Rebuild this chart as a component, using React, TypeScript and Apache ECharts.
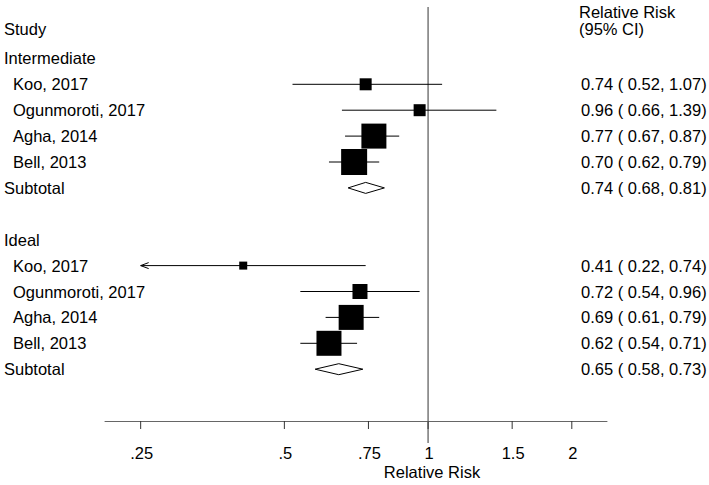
import { useEffect, useRef } from "react";
import * as echarts from "echarts";

// ---- data ----
const rowLabels = [
  "Intermediate",
  "Koo, 2017",
  "Ogunmoroti, 2017",
  "Agha, 2014",
  "Bell, 2013",
  "Subtotal",
  "Ideal",
  "Koo, 2017",
  "Ogunmoroti, 2017",
  "Agha, 2014",
  "Bell, 2013",
  "Subtotal",
];
const rowPos = [1, 2, 3, 4, 5, 6, 8, 9, 10, 11, 12, 13];
const rowKind = [
  "group", "study", "study", "study", "study", "subtotal",
  "group", "study", "study", "study", "study", "subtotal",
];
const estimates = [null, 0.74, 0.96, 0.77, 0.7, 0.74, null, 0.41, 0.72, 0.69, 0.62, 0.65];
const lower = [null, 0.52, 0.66, 0.67, 0.62, 0.68, null, 0.22, 0.54, 0.61, 0.54, 0.58];
const upper = [null, 1.07, 1.39, 0.87, 0.79, 0.81, null, 0.74, 0.96, 0.79, 0.71, 0.73];
// study weights shown as marker box size
const weights = [null, 12, 12, 25, 26, null, null, 8, 15, 25, 25, null];
const tickValues = [0.25, 0.5, 0.75, 1, 1.5, 2];
const tickLabels = [".25", ".5", ".75", "1", "1.5", "2"];
const nullValue = 1;
const clipLow = 0.25;

const FONT = "16.5px 'Liberation Sans', Arial, sans-serif";

const txt = (text: string, x: number, y: number, align: string, extra: any = {}) => ({
  type: "text",
  style: {
    text,
    x,
    y,
    font: FONT,
    fill: "#000",
    align,
    verticalAlign: "middle",
    textAlign: align,
    textVerticalAlign: "middle",
    ...extra,
  },
});

export default function App() {
  const ref = useRef<HTMLDivElement>(null);
  useEffect(() => {
    document.body.style.margin = "0";
    if (!ref.current) return;
    const chart = echarts.init(ref.current, undefined, { renderer: "svg" });

    const forestData: any[] = [];
    rowKind.forEach((k, i) => {
      if (k !== "group") {
        forestData.push([estimates[i], rowPos[i], lower[i], upper[i], weights[i] ?? 0, i]);
      }
    });

    const labelData = rowLabels.map((_, i) => [nullValue, rowPos[i], i]);
    const tickData = tickValues.map((v, i) => [v, 15, i]);

    const option: any = {
      animation: false,
      grid: { left: 105, right: 102, top: 32.5, bottom: 64, outerBoundsMode: "none" },
      xAxis: {
        type: "log",
        logBase: 10,
        min: 0.2105,
        max: 2.37,
        axisLine: { show: true, onZero: false, lineStyle: { color: "#666", width: 1 } },
        axisTick: { show: false },
        axisLabel: { show: false },
        splitLine: { show: false },
      },
      yAxis: {
        type: "value",
        inverse: true,
        min: 0,
        max: 15,
        show: false,
      },
      graphic: [
        txt("Study", 4, 29, "left"),
        txt("Relative Risk", 579, 11.5, "left"),
        txt("(95% CI)", 579, 28.5, "left"),
        txt("Relative Risk", 432, 472, "center"),
      ],
      series: [
        {
          // null line
          type: "custom",
          clip: false,
          silent: true,
          data: [[nullValue, 0]],
          encode: { x: 0, y: 1 },
          z: 1,
          renderItem: (params: any, api: any) => {
            const top = api.coord([nullValue, 0]);
            const bot = api.coord([nullValue, 15]);
            return {
              type: "line",
              shape: { x1: top[0], y1: top[1] - 25.5, x2: top[0], y2: bot[1] + 22 },
              style: { stroke: "#808080", lineWidth: 1.6 },
            };
          },
        },
        {
          // axis ticks & labels
          type: "custom",
          clip: false,
          silent: true,
          data: tickData,
          encode: { x: 0, y: 1 },
          z: 2,
          renderItem: (params: any, api: any) => {
            const p = api.coord([api.value(0), api.value(1)]);
            const i = api.value(2);
            return {
              type: "group",
              children: [
                {
                  type: "line",
                  shape: { x1: p[0], y1: p[1], x2: p[0], y2: p[1] + 8 },
                  style: { stroke: "#333", lineWidth: 1 },
                },
                txt(tickLabels[i], p[0] + 1, p[1] + 32, "center"),
              ],
            };
          },
        },
        {
          // row labels & CI text
          type: "custom",
          clip: false,
          silent: true,
          data: labelData,
          encode: { x: 0, y: 1 },
          z: 3,
          renderItem: (params: any, api: any) => {
            const i = api.value(2);
            const p = api.coord([api.value(0), api.value(1)]);
            const kind = rowKind[i];
            const children: any[] = [txt(rowLabels[i], kind === "study" ? 13 : 4, p[1], "left")];
            if (kind !== "group") {
              const s = `${(estimates[i] as number).toFixed(2)} ( ${(lower[i] as number).toFixed(2)}, ${(upper[i] as number).toFixed(2)})`;
              children.push(txt(s, 581, p[1], "left"));
            }
            return { type: "group", children };
          },
        },
        {
          // forest marks
          type: "custom",
          clip: false,
          silent: true,
          data: forestData,
          encode: { x: 0, y: 1 },
          z: 4,
          renderItem: (params: any, api: any) => {
            const est = api.value(0);
            const row = api.value(1);
            const lo = api.value(2);
            const hi = api.value(3);
            const size = api.value(4);
            const i = api.value(5);
            const pc = api.coord([est, row]);
            if (rowKind[i] === "subtotal") {
              const pl = api.coord([lo, row]);
              const ph = api.coord([hi, row]);
              const h = 5.5;
              return {
                type: "polygon",
                shape: {
                  points: [
                    [pl[0], pc[1]],
                    [pc[0], pc[1] - h],
                    [ph[0], pc[1]],
                    [pc[0], pc[1] + h],
                  ],
                },
                style: { fill: "#fff", stroke: "#000", lineWidth: 1 },
              };
            }
            const clipped = lo < clipLow;
            const pl = api.coord([clipped ? clipLow : lo, row]);
            const ph = api.coord([hi, row]);
            const children: any[] = [
              {
                type: "line",
                shape: { x1: pl[0], y1: pc[1], x2: ph[0], y2: pc[1] },
                style: { stroke: "#000", lineWidth: 1 },
              },
              {
                type: "rect",
                shape: { x: pc[0] - size / 2, y: pc[1] - size / 2, width: size, height: size },
                style: { fill: "#000" },
              },
            ];
            if (clipped) {
              children.push({
                type: "polyline",
                shape: {
                  points: [
                    [pl[0] + 8, pc[1] - 3],
                    [pl[0], pc[1]],
                    [pl[0] + 8, pc[1] + 3],
                  ],
                },
                style: { stroke: "#000", lineWidth: 1, fill: "none" },
              });
            }
            return { type: "group", children };
          },
        },
      ],
    };
    chart.setOption(option);
    return () => chart.dispose();
  }, []);
  return <div ref={ref} style={{ width: 709, height: 485 }} />;
}
